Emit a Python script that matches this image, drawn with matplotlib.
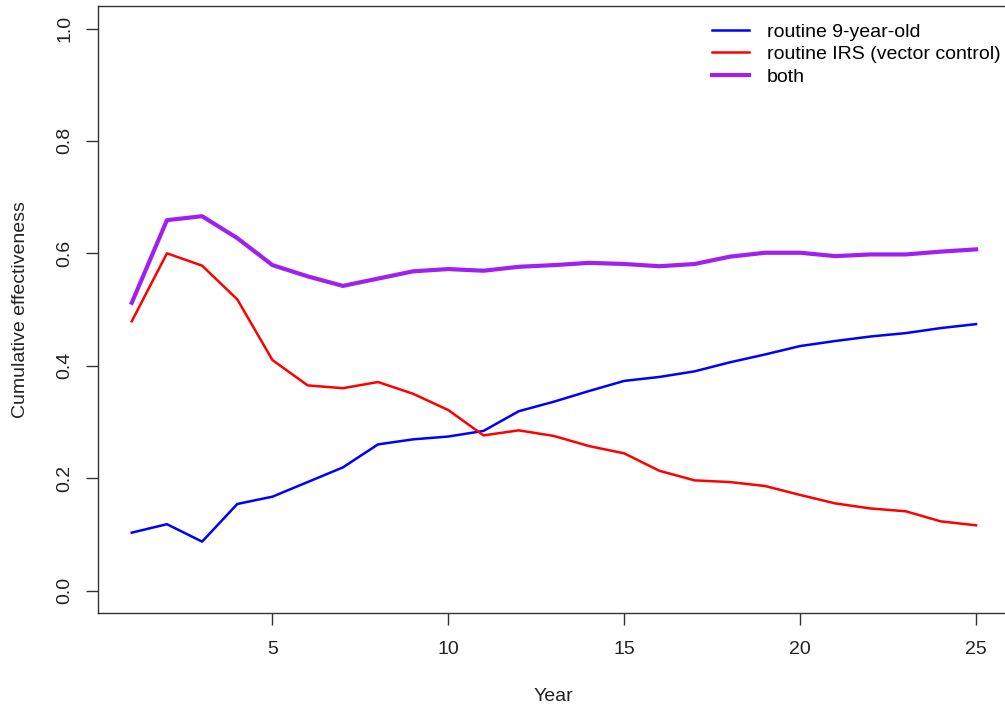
import matplotlib
matplotlib.use("Agg")
import matplotlib.pyplot as plt

plt.rcParams["font.family"] = ["Liberation Sans", "DejaVu Sans"]

# Values
years = list(range(1, 26))
routine_9yo = [0.103, 0.118, 0.087, 0.154, 0.167, 0.193, 0.219, 0.260, 0.269, 0.274,
               0.284, 0.319, 0.336, 0.355, 0.373, 0.380, 0.390, 0.406, 0.420, 0.435,
               0.444, 0.452, 0.458, 0.467, 0.474]
routine_irs = [0.479, 0.600, 0.578, 0.518, 0.410, 0.365, 0.360, 0.371, 0.350, 0.321,
               0.276, 0.285, 0.275, 0.257, 0.244, 0.213, 0.196, 0.193, 0.186, 0.170,
               0.155, 0.146, 0.141, 0.123, 0.116]
both = [0.512, 0.659, 0.666, 0.627, 0.579, 0.559, 0.542, 0.555, 0.568, 0.572,
        0.569, 0.576, 0.579, 0.583, 0.581, 0.577, 0.581, 0.594, 0.601, 0.601,
        0.595, 0.598, 0.598, 0.603, 0.607]

series_labels = ["routine 9-year-old", "routine IRS (vector control)", "both"]
series_colors = ["#0000ff", "#ff0000", "#a020f0"]

FS = 14

fig = plt.figure(figsize=(10.05, 7.09), dpi=100)
# the right side of the plot box is cut off in the reference
ax = fig.add_axes([0.0975, 0.1354, 1.0048 - 0.0975, 0.9915 - 0.1354])

ax.plot(years, routine_9yo, color=series_colors[0], lw=1.8, label=series_labels[0])
ax.plot(years, routine_irs, color=series_colors[1], lw=1.8, label=series_labels[1])
ax.plot(years, both, color=series_colors[2], lw=3.0, label=series_labels[2])

ax.set_xlim(0.04, 25.96)
ax.set_ylim(-0.04, 1.04)
ax.set_xticks([5, 10, 15, 20, 25])
ax.set_yticks([0.0, 0.2, 0.4, 0.6, 0.8, 1.0])
ax.set_yticklabels(["0.0", "0.2", "0.4", "0.6", "0.8", "1.0"], rotation=90, va="center")

for s in ax.spines.values():
    s.set_color("#333333")
    s.set_linewidth(1.0)
ax.tick_params(axis="both", length=8.6, width=1.0, color="#333333",
               labelsize=FS, labelcolor="#222222")
ax.tick_params(axis="x", pad=11.5)
ax.tick_params(axis="y", pad=9)

ax.set_xlabel("Year", fontsize=FS, color="#222222", va="center")
ax.set_ylabel("Cumulative effectiveness", fontsize=FS, color="#222222", va="center")
ax.xaxis.set_label_coords(0.5, -84 / 607)
ax.yaxis.set_label_coords(-77 / 911.8, 0.5)

ax.legend(loc="upper left", bbox_to_anchor=(712 / 1005, 1 - 23 / 709),
          bbox_transform=fig.transFigure, frameon=False, fontsize=FS,
          handlelength=1.9, handletextpad=0.93, labelspacing=0.26,
          borderpad=0, borderaxespad=0)

fig.savefig("out.png", dpi=100)
